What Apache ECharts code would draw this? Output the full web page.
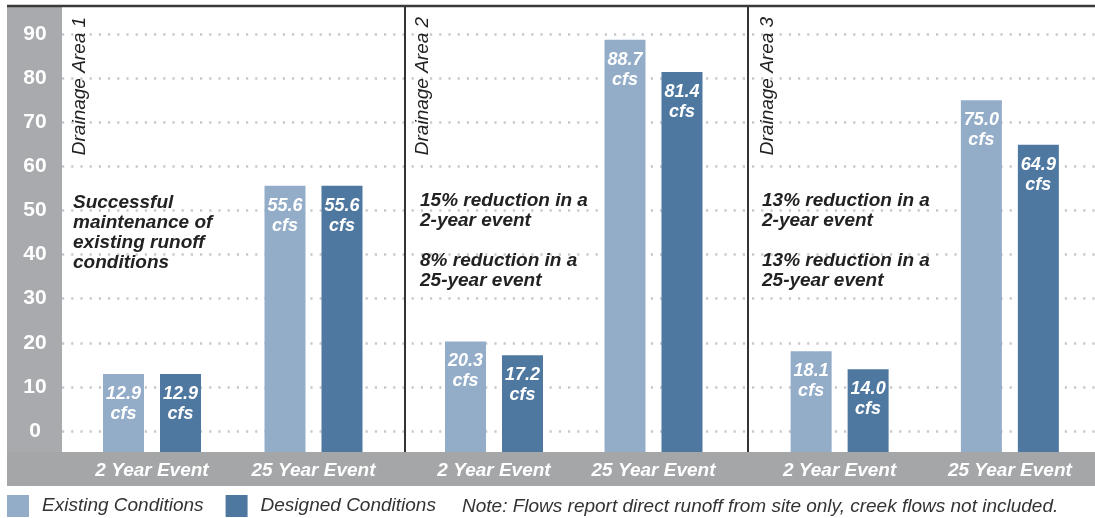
<!DOCTYPE html>
<html>
<head>
<meta charset="utf-8">
<script src="https://cdn.jsdelivr.net/npm/echarts@6/dist/echarts.min.js"></script>
<style>
  html, body { margin: 0; padding: 0; background: #fff; }
  #chart { width: 1095px; height: 518px; }
</style>
</head>
<body>
<div id="chart"></div>
<script>
// Peak runoff (cfs) per drainage area and storm event
const events = ['2 Year Event', '25 Year Event'];
const areas = ['Drainage Area 1', 'Drainage Area 2', 'Drainage Area 3'];
const existingFlows = [[12.9, 55.6], [20.3, 88.7], [18.1, 75.0]];
const designedFlows = [[12.9, 55.6], [17.2, 81.4], [14.0, 64.9]];
const areaNotes = [
  'Successful\nmaintenance of\nexisting runoff\nconditions',
  '15% reduction in a\n2-year event\n\n8% reduction in a\n25-year event',
  '13% reduction in a\n2-year event\n\n13% reduction in a\n25-year event'
];
const seriesNames = ['Existing Conditions', 'Designed Conditions'];
const footnote = 'Note: Flows report direct runoff from site only, creek flows not included.';
const yTickMin = 0, yTickMax = 90, yTickStep = 10;

// ---- layout ----
const W = 1095, H = 518;
const FONT = '"Liberation Sans", Arial, Helvetica, sans-serif';
const COLORS = ['#93adc9', '#4e78a0'];
const BAND = '#a8aaad';
const frameLeft = 7, frameTop = 7, plotLeft = 62;
const plotBottom = 452, bandBottom = 486;
const tickTopPx = 34, tickBottomPx = 431;        // pixel rows of the 90 and 0 gridlines
const pxPerUnit = (tickBottomPx - tickTopPx) / (yTickMax - yTickMin);
const barMax = yTickMax + (tickTopPx - frameTop) / pxPerUnit;
const barMin = yTickMin - (plotBottom - tickBottomPx) / pxPerUnit;
const dividers = [405, 748];
// horizontal extent of each panel's category band
const panelGrids = [[71.25, 394.25], [414.25, 733.25], [754.5, 1096.5]];
const titleX = [80, 423, 768];
const noteX = [73, 420, 762];

const grids = [{ left: plotLeft, right: 0, top: tickTopPx, bottom: H - tickBottomPx }];
const xAxes = [{ gridIndex: 0, type: 'value', show: false, min: 0, max: 1 }];
const yAxes = [{
  gridIndex: 0, type: 'value', min: yTickMin, max: yTickMax, interval: yTickStep,
  axisLine: { show: false }, axisTick: { show: false },
  axisLabel: {
    color: '#ffffff', fontFamily: FONT, fontSize: 21, fontWeight: 'bold',
    align: 'center', margin: plotLeft - 35
  },
  splitLine: { lineStyle: { color: '#c6c8cb', width: 2.5, type: [2.2, 7] } }
}];
const series = [];

areas.forEach((area, i) => {
  const gi = i + 1;
  grids.push({
    left: panelGrids[i][0], right: W - panelGrids[i][1],
    top: frameTop, bottom: H - plotBottom
  });
  xAxes.push({
    gridIndex: gi, type: 'category', data: events,
    axisLine: { show: false }, axisTick: { show: false },
    axisLabel: {
      interval: 0,
      color: '#ffffff', fontFamily: FONT, fontSize: 19,
      fontWeight: 'bold', fontStyle: 'italic', margin: 9
    }
  });
  // bars rise from the foot of the plot, below the 0 gridline
  yAxes.push({
    gridIndex: gi, type: 'value', min: barMin, max: barMax, startValue: barMin,
    show: false, splitLine: { show: false }
  });
  [existingFlows[i], designedFlows[i]].forEach((vals, s) => {
    series.push({
      type: 'bar', name: seriesNames[s], xAxisIndex: gi, yAxisIndex: gi,
      data: vals, barWidth: 41, barGap: '39%',
      itemStyle: { color: COLORS[s] },
      label: {
        show: true, position: 'insideTop', distance: 10,
        formatter: p => p.value.toFixed(1) + '\ncfs',
        color: '#ffffff', fontFamily: FONT, fontSize: 18,
        fontWeight: 'bold', fontStyle: 'italic', lineHeight: 20
      }
    });
  });
});

const graphics = [
  // grey axis bands
  { type: 'rect', z: -10, shape: { x: frameLeft, y: frameTop, width: plotLeft - frameLeft, height: plotBottom - frameTop }, style: { fill: BAND } },
  { type: 'rect', z: -10, shape: { x: frameLeft, y: plotBottom, width: W - frameLeft, height: bandBottom - plotBottom }, style: { fill: '#a4a6a8' } },
  // top rule
  { type: 'line', z: 20, shape: { x1: frameLeft, y1: 6, x2: W, y2: 6 }, style: { stroke: '#3a3a3a', lineWidth: 2.5 } }
];
dividers.forEach(x => graphics.push({
  type: 'line', z: 20, shape: { x1: x, y1: frameTop, x2: x, y2: plotBottom },
  style: { stroke: '#333333', lineWidth: 2 }
}));
areas.forEach((area, i) => {
  graphics.push({
    type: 'text', z: 20, x: titleX[i], y: 86, rotation: Math.PI / 2,
    style: {
      text: area, fill: '#222222', fontFamily: FONT, fontSize: 19, fontStyle: 'italic',
      align: 'center', verticalAlign: 'middle'
    }
  });
  graphics.push({
    type: 'text', z: 20, x: noteX[i], y: i === 0 ? 193 : 191,
    style: {
      text: areaNotes[i], fill: '#222222', fontFamily: FONT, fontSize: 19,
      fontWeight: 'bold', fontStyle: 'italic', lineHeight: 20,
      align: 'left', verticalAlign: 'top'
    }
  });
});
graphics.push({
  type: 'text', z: 20, x: 462, y: 507,
  style: {
    text: footnote, fill: '#333333', fontFamily: FONT, fontSize: 19, fontStyle: 'italic',
    align: 'left', verticalAlign: 'middle'
  }
});

const chart = echarts.init(document.getElementById('chart'), null, { renderer: 'canvas' });
chart.setOption({
  animation: false,
  backgroundColor: '#ffffff',
  grid: grids,
  xAxis: xAxes,
  yAxis: yAxes,
  legend: {
    data: seriesNames, left: 7, top: 495, icon: 'rect',
    itemWidth: 22, itemHeight: 22, itemGap: 22, padding: 0,
    selectedMode: false,
    textStyle: { color: '#333333', fontFamily: FONT, fontSize: 19, fontStyle: 'italic', padding: [0, 0, 0, 8] }
  },
  series: series,
  graphic: graphics
});
</script>
</body>
</html>
